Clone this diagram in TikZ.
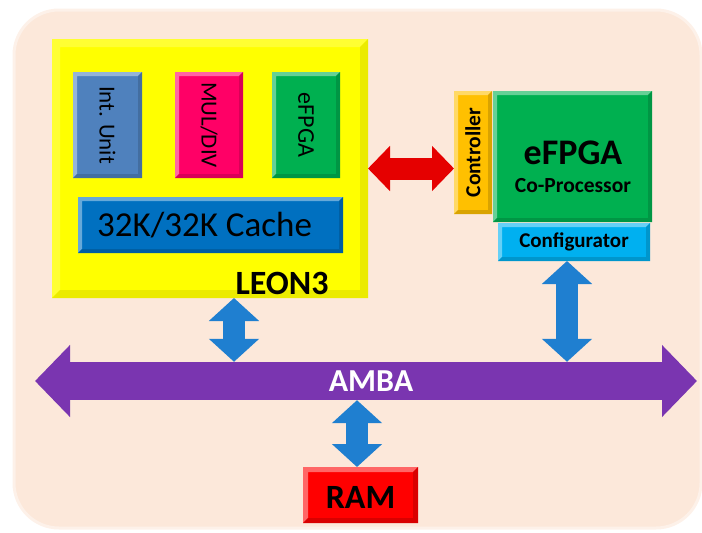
\documentclass[tikz,border=0pt]{standalone}
\usepackage{fontspec}
\usepackage{graphicx}
\setmainfont{Carlito}
\usetikzlibrary{arrows.meta,calc}
\definecolor{bgpeach}{HTML}{FCE8DA}
\definecolor{leonyel}{HTML}{FFFF00}
\definecolor{intblue}{HTML}{4F81BD}
\definecolor{mulpink}{HTML}{FF0066}
\definecolor{fpgagreen}{HTML}{00B050}
\definecolor{cacheblue}{HTML}{0070C0}
\definecolor{ctrlorange}{HTML}{FFC000}
\definecolor{cfgcyan}{HTML}{00B0F0}
\definecolor{ramred}{HTML}{FF0000}
\definecolor{arrowblue}{HTML}{1F7FD0}
\definecolor{buspurple}{HTML}{7A35B0}
\begin{document}
\begin{tikzpicture}[x=1pt,y=-1pt,
  bevel/.style n args={4}{path picture={
    \coordinate (bnw) at (path picture bounding box.north west);
    \coordinate (bse) at (path picture bounding box.south east);
    \coordinate (bne) at (bnw -| bse);
    \coordinate (bsw) at (bnw |- bse);
    \fill[#3] (bsw) -- (bnw) -- (bne) -- ([xshift=-#2,yshift=-#2]bne) -- ([xshift=#2,yshift=-#2]bnw) -- ([xshift=#2,yshift=#2]bsw) -- cycle;
    \fill[#4] (bsw) -- (bse) -- (bne) -- ([xshift=-#2,yshift=-#2]bne) -- ([xshift=-#2,yshift=#2]bse) -- ([xshift=#2,yshift=#2]bsw) -- cycle;
  }},
  bev/.style 2 args={bevel={#1}{#2}{#1!60!white}{#1!85!black}},
  blk/.style={inner sep=0pt, outer sep=0pt, anchor=north west, draw=none},
  lbl/.style={inner sep=0pt, text=black},
  bluearrow/.style={draw=arrowblue, line width=22pt,
    {Triangle[width=49pt,length=23pt]}-{Triangle[width=49pt,length=23pt]}},
  redarrow/.style={draw=red!90!black, line width=22pt,
    {Triangle[width=44pt,length=22pt]}-{Triangle[width=44pt,length=22pt]}},
  busarrow/.style={draw=buspurple, line width=38pt,
    {Triangle[width=70pt,length=35pt]}-{Triangle[width=70pt,length=35pt]}}
]
\useasboundingbox (0,0) rectangle (702,533);
% background
\path[fill=bgpeach, draw=white!40!bgpeach, line width=3pt, rounded corners=45pt]
  (14,10) rectangle (701,528);

% LEON3 block
\node[blk, fill=leonyel, minimum width=316pt, minimum height=259pt,
  bevel={leonyel}{8pt}{leonyel!80!white}{leonyel!92!black}] (leon) at (52,39) {};
\node[blk, fill=intblue, minimum width=69pt, minimum height=106pt, bev={intblue}{4pt}] (intu) at (73,72) {};
\node[lbl, font=\fontsize{23}{23}\selectfont] at (intu.center) {\rotatebox{-90}{Int. Unit}};
\node[blk, fill=mulpink, minimum width=68pt, minimum height=106pt, bev={mulpink}{4pt}] (mul) at (175,72) {};
\node[lbl, font=\fontsize{23}{23}\selectfont] at (mul.center) {\rotatebox{-90}{MUL/DIV}};
\node[blk, fill=fpgagreen, minimum width=68pt, minimum height=106pt, bev={fpgagreen}{4pt}] (efs) at (272,72) {};
\node[lbl, font=\fontsize{24}{24}\selectfont] at (efs.center) {\rotatebox{-90}{eFPGA}};
\node[blk, fill=cacheblue, minimum width=265pt, minimum height=56pt, bev={cacheblue}{4pt}] (cache) at (78,197) {};
\node[lbl, font=\fontsize{35}{35}\selectfont] at ([xshift=-6pt]cache.center) {32K/32K Cache};
\node[lbl, font=\fontsize{34}{34}\selectfont\bfseries, anchor=base] (leonlbl) at (282,294) {LEON3};

% eFPGA co-processor
\node[blk, fill=ctrlorange, minimum width=38pt, minimum height=123pt, bev={ctrlorange}{4pt}] (ctrl) at (454,91) {};
\node[lbl, font=\fontsize{21.5}{21.5}\selectfont\bfseries] at (ctrl.center) {\rotatebox{90}{Controller}};
\node[blk, fill=fpgagreen, minimum width=159pt, minimum height=131pt, bev={fpgagreen}{4pt}] (efb) at (493,91) {};
\node[lbl, font=\fontsize{36}{36}\selectfont\bfseries] (efbt) at (573,153) {eFPGA};
\node[lbl, font=\fontsize{21.5}{21.5}\selectfont\bfseries] (efbc) at (573,186) {Co-Processor};
\node[blk, fill=cfgcyan, minimum width=152pt, minimum height=38pt, bev={cfgcyan}{4pt}] (cfg) at (498,223) {};
\node[lbl, font=\fontsize{21}{21}\selectfont\bfseries] at (cfg.center) {Configurator};

% RAM
\node[blk, fill=ramred, minimum width=115pt, minimum height=56pt, bev={ramred}{5pt}] (ram) at (303,467) {};
\node[lbl, font=\fontsize{34}{34}\selectfont\bfseries] at ([yshift=-2pt]ram.center) {RAM};

% AMBA bus
\coordinate (busL) at (35,381);
\coordinate (busR) at (697,381);
\draw[busarrow] (busL) -- (busR);
\node[inner sep=0pt, minimum height=38pt, text=white, font=\fontsize{32}{32}\selectfont\bfseries] (amba) at (371,381) {AMBA};

% connectors
\draw[redarrow] (leon.east) -- (leon.east -| ctrl.west);
\coordinate (lb) at (234,298);
\draw[bluearrow] (lb) -- (lb |- amba.north);
\coordinate (cb) at (567,261);
\draw[bluearrow] (cb) -- (cb |- amba.north);
\coordinate (rb) at (357,467);
\draw[bluearrow] (rb) -- (rb |- amba.south);
\end{tikzpicture}
\end{document}
